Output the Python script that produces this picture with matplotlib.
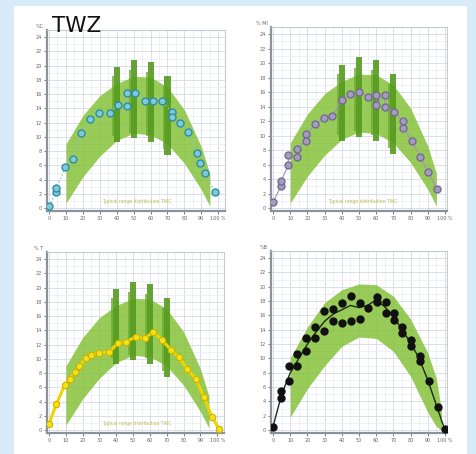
import numpy as np
import matplotlib
matplotlib.use("Agg")
import matplotlib.pyplot as plt
from matplotlib.patches import Rectangle
from matplotlib.ticker import MultipleLocator

plt.rcParams['font.family'] = ['DejaVu Sans']

# ---- data ----
x_ticks = [0, 10, 20, 30, 40, 50, 60, 70, 80, 90, 100]
x_labels = ['0', '10', '20', '30', '40', '50', '60', '70', '80', '90', '100 %']
y_ticks = [0, 2, 4, 6, 8, 10, 12, 14, 16, 18, 20, 22, 24]

# typical range band (panels 1-3)
band_x = [10, 20, 30, 40, 50, 60, 70, 80, 90, 95]
band_hi = [9.0, 13.0, 15.8, 17.5, 18.5, 18.4, 17.0, 13.8, 8.6, 4.8]
band_lo = [0.7, 4.4, 7.3, 9.5, 10.5, 10.3, 9.0, 6.3, 2.6, 0.3]

# vertical ranges
bar_x = [40, 50, 60, 70]
bar_top = [19.8, 20.8, 20.5, 18.5]
bar_bot = [9.3, 9.8, 9.3, 7.5]

# band panel 4
band4_x = [10, 20, 30, 40, 50, 60, 70, 80, 90, 95, 98]
band4_hi = [10.1, 14.4, 17.8, 19.6, 20.4, 20.3, 18.7, 15.5, 10.8, 7.2, 2.7]
band4_lo = [1.8, 5.8, 9.0, 11.7, 13.0, 12.8, 11.0, 7.5, 2.5, 0.5, 0.0]

c_x = [0, 4.3, 4.3, 9.7, 14.2, 19.1, 24, 29.6, 36, 40.8, 45.8, 46, 50.7, 57, 61.5, 67,
       72.4, 72.4, 77.3, 82.2, 87.2, 89, 92, 98]
c_y = [0.3, 2.3, 2.8, 5.8, 6.9, 10.5, 12.5, 13.4, 13.4, 14.5, 14.3, 16.1, 16.1, 15, 15, 15,
       13.5, 12.8, 12.0, 10.7, 7.7, 6.3, 4.9, 2.3]

m_x = [0, 4.5, 4.5, 8.9, 8.9, 14, 14, 19, 19.4, 24.4, 29.7, 34.5, 40, 45, 50, 55, 60, 60,
       65, 65, 70.3, 75.8, 75.8, 80.6, 85.5, 90.3, 95.5]
m_y = [0.8, 3.0, 3.7, 5.9, 7.3, 7.1, 8.2, 9.3, 10.2, 11.6, 12.4, 12.7, 14.9, 15.8, 16.0,
       15.4, 15.6, 14.2, 15.6, 14.0, 13.3, 12.0, 11.1, 9.3, 7.1, 5.0, 2.6]

t_x = [0, 4.3, 9.3, 12.2, 15.2, 18.1, 21.7, 25, 30, 35.9, 40.8, 45.8, 51.7, 57, 62, 66.9,
       72.4, 77.3, 82.2, 87.2, 92, 97, 101]
t_y = [0.9, 3.6, 6.3, 7.2, 8.1, 9.0, 10.1, 10.6, 10.8, 11.0, 12.2, 12.4, 13.1, 12.9, 13.8,
       12.7, 11.3, 10.2, 8.6, 7.2, 4.7, 1.8, 0.2]

b_x = [0, 4.5, 4.5, 9.3, 9.3, 14.1, 14.1, 19, 19, 24.4, 24.4, 29.7, 29.7, 34.9, 34.9, 40, 40,
       45.3, 45.3, 50.4, 50.4, 55.4, 60.3, 60.3, 65.5, 65.5, 70.3, 70.3, 75.2, 75.2, 80.4,
       80.4, 85.5, 85.5, 90.7, 95.9, 100]
b_y = [0.5, 5.4, 4.5, 9.0, 6.8, 10.6, 9.0, 12.8, 11.0, 14.4, 12.8, 16.6, 13.9, 16.9, 15.2,
       17.8, 15.0, 18.7, 15.3, 17.8, 15.5, 17.1, 18.6, 17.9, 17.9, 16.3, 16.3, 15.4, 14.4, 13.5,
       12.6, 11.8, 10.4, 9.7, 6.8, 3.2, 0.2]
b_fit_x = [0, 5, 10, 15, 20, 25, 30, 35, 40, 45, 50, 55, 60, 65, 70, 75, 80, 85, 90, 95, 100]
b_fit_y = [0.5, 5.0, 8.0, 10.0, 12.0, 13.7, 15.2, 16.2, 16.8, 17.4, 17.1, 17.4, 18.2, 17.2,
           15.9, 14.0, 12.2, 10.0, 7.0, 3.5, 0.0]

unit_labels = ['%C', '% MI', '% T', '%B']
band_text = 'Typical range distribution TWC'

fig = plt.figure(figsize=(4.76, 4.54), dpi=100)
fig.patch.set_facecolor('#d7ebf8')
fig.patches.append(Rectangle((14 / 476, 0), 453 / 476, 1 - 6 / 454, transform=fig.transFigure,
                             facecolor='white', edgecolor='none', zorder=-10))


def make_ax(left, top, right, bottom, xlim, unit):
    ax = fig.add_axes([left / 476, 1 - bottom / 454, (right - left) / 476, (bottom - top) / 454])
    ax.set_facecolor('white')
    ax.set_xlim(*xlim)
    ax.set_ylim(-0.4, 25)
    ax.set_xticks(x_ticks)
    ax.set_xticklabels(x_labels)
    ax.set_yticks(y_ticks)
    ax.xaxis.set_minor_locator(MultipleLocator(5))
    ax.yaxis.set_minor_locator(MultipleLocator(1))
    ax.grid(True, which='major', color='#d3d9e5', lw=0.6)
    ax.grid(True, which='minor', color='#e8ebf2', lw=0.5)
    ax.set_axisbelow(True)
    ax.tick_params(labelsize=3.5, colors='#666666', length=2, width=0.6, pad=1.5)
    ax.tick_params(which='minor', length=0)
    for s in ['top', 'right']:
        ax.spines[s].set_color('#c5cbd3')
        ax.spines[s].set_linewidth(0.8)
    for s in ['left', 'bottom']:
        ax.spines[s].set_color('#8a939b')
        ax.spines[s].set_linewidth(1.6)
    ax.text(-0.02, 1.005, unit, transform=ax.transAxes, ha='right', va='bottom',
            fontsize=3.5, color='#666666')
    return ax


def draw_range(ax):
    ax.fill_between(band_x, band_lo, band_hi, color='#86c23a', alpha=0.85, lw=0, zorder=2)
    for bx, bt, bb in zip(bar_x, bar_top, bar_bot):
        ax.bar(bx, bt - bb, bottom=bb, width=3.6, color='#559a1f', alpha=0.9, zorder=3)
        ax.bar(bx - 2.3, (bt - bb) * 0.8, bottom=bb + 0.8, width=1.2, color='#6cae30',
               alpha=0.8, zorder=3)
    ax.text(52, 0.9, band_text, fontsize=3.3, color='#c2bd52', ha='center', va='center', zorder=4)


ax1 = make_ax(47, 30, 225, 211, (-1.2, 104), unit_labels[0])
draw_range(ax1)
ax1.plot(c_x, c_y, ls=':', color='#7fc6d8', lw=1.0, zorder=5)
ax1.plot(c_x, c_y, 'o', ms=5, mfc='#80c9d6', mec='#2f8ea3', mew=1.0, zorder=6)

ax2 = make_ax(271, 27, 447, 211, (-1.2, 101.2), unit_labels[1])
draw_range(ax2)
ax2.plot(m_x, m_y, '-', color='#a58fc4', lw=0.8, zorder=5)
ax2.plot(m_x, m_y, 'o', ms=5, mfc='#a49bbd', mec='#746b94', mew=1.0, zorder=6)

ax3 = make_ax(47, 252, 224, 433, (-1.2, 104), unit_labels[2])
draw_range(ax3)
ax3.plot(t_x, t_y, '-', color='#f0d400', lw=2.2, zorder=5)
ax3.plot(t_x, t_y, 'o', ms=4.6, mfc='#f3e21a', mec='#cfb000', mew=0.8, zorder=6)

ax4 = make_ax(271, 251, 447, 433, (-1.2, 101.2), unit_labels[3])
ax4.fill_between(band4_x, band4_lo, band4_hi, color='#86c23a', alpha=0.85, lw=0, zorder=2)
ax4.plot(b_fit_x, b_fit_y, '-', color='#1a2a1a', lw=1.0, zorder=5)
ax4.plot(b_x, b_y, 'o', ms=5, color='#111111', zorder=6)

fig.text(52 / 476, 1 - 32 / 454, 'TWZ', fontsize=15.5, color='#111111', ha='left', va='baseline')

fig.savefig('out.png', dpi=100, facecolor=fig.get_facecolor())
